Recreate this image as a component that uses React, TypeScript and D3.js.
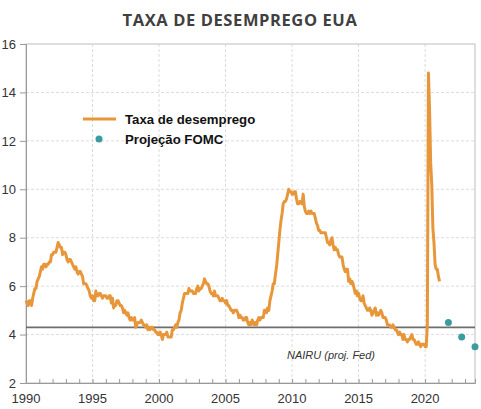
import React, { useEffect, useRef } from 'react';
import * as d3 from 'd3';

// Monthly US unemployment rate (%), Jan 1990 onwards
const startYear = 1990;
const unemployment = [
  5.4, 5.3, 5.2, 5.4, 5.4, 5.2, 5.5, 5.7, 5.9, 5.9, 6.2, 6.3,
  6.4, 6.6, 6.8, 6.7, 6.9, 6.9, 6.8, 6.9, 6.9, 7.0, 7.0, 7.3,
  7.3, 7.4, 7.4, 7.4, 7.6, 7.8, 7.7, 7.6, 7.6, 7.3, 7.4, 7.4,
  7.3, 7.1, 7.0, 7.1, 7.1, 7.0, 6.9, 6.8, 6.7, 6.8, 6.6, 6.5,
  6.6, 6.6, 6.5, 6.4, 6.1, 6.1, 6.1, 6.0, 5.9, 5.8, 5.6, 5.5,
  5.6, 5.4, 5.4, 5.8, 5.6, 5.6, 5.7, 5.7, 5.6, 5.5, 5.6, 5.6,
  5.6, 5.5, 5.5, 5.6, 5.6, 5.3, 5.5, 5.1, 5.2, 5.2, 5.4, 5.4,
  5.3, 5.2, 5.2, 5.1, 4.9, 5.0, 4.9, 4.8, 4.9, 4.7, 4.6, 4.7,
  4.6, 4.6, 4.7, 4.3, 4.4, 4.5, 4.5, 4.5, 4.6, 4.5, 4.4, 4.4,
  4.3, 4.4, 4.2, 4.3, 4.2, 4.3, 4.3, 4.2, 4.2, 4.1, 4.1, 4.0,
  4.0, 4.1, 4.0, 3.8, 4.0, 4.0, 4.0, 4.1, 3.9, 3.9, 3.9, 3.9,
  4.2, 4.2, 4.3, 4.4, 4.3, 4.5, 4.6, 4.9, 5.0, 5.3, 5.5, 5.7,
  5.7, 5.7, 5.7, 5.9, 5.8, 5.8, 5.8, 5.7, 5.7, 5.7, 5.9, 6.0,
  5.8, 5.9, 5.9, 6.0, 6.1, 6.3, 6.2, 6.1, 6.1, 6.0, 5.8, 5.7,
  5.7, 5.6, 5.8, 5.6, 5.6, 5.6, 5.5, 5.4, 5.4, 5.5, 5.4, 5.4,
  5.3, 5.4, 5.2, 5.2, 5.1, 5.0, 5.0, 4.9, 5.0, 5.0, 5.0, 4.9,
  4.7, 4.8, 4.7, 4.7, 4.6, 4.6, 4.7, 4.7, 4.5, 4.4, 4.5, 4.4,
  4.6, 4.5, 4.4, 4.5, 4.4, 4.6, 4.7, 4.6, 4.7, 4.7, 4.7, 5.0,
  5.0, 4.9, 5.1, 5.0, 5.4, 5.6, 5.8, 6.1, 6.1, 6.5, 6.8, 7.3,
  7.8, 8.3, 8.7, 9.0, 9.4, 9.5, 9.5, 9.6, 9.8, 10.0, 9.9, 9.9,
  9.8, 9.8, 9.9, 9.9, 9.6, 9.4, 9.4, 9.5, 9.5, 9.4, 9.8, 9.3,
  9.1, 9.0, 9.0, 9.1, 9.0, 9.1, 9.0, 9.0, 9.0, 8.8, 8.6, 8.5,
  8.3, 8.3, 8.2, 8.2, 8.2, 8.2, 8.2, 8.0, 7.8, 7.8, 7.7, 7.9,
  8.0, 7.7, 7.5, 7.6, 7.5, 7.5, 7.3, 7.2, 7.2, 7.2, 6.9, 6.7,
  6.6, 6.7, 6.7, 6.2, 6.3, 6.1, 6.2, 6.1, 5.9, 5.7, 5.8, 5.6,
  5.7, 5.5, 5.4, 5.4, 5.6, 5.3, 5.2, 5.1, 5.0, 5.0, 5.1, 5.0,
  4.8, 4.9, 5.0, 5.1, 4.8, 4.9, 4.8, 4.9, 5.0, 4.9, 4.7, 4.7,
  4.7, 4.6, 4.4, 4.4, 4.4, 4.3, 4.3, 4.4, 4.3, 4.2, 4.2, 4.1,
  4.0, 4.1, 4.0, 4.0, 3.8, 4.0, 3.8, 3.8, 3.7, 3.8, 3.8, 3.9,
  4.0, 3.8, 3.8, 3.7, 3.6, 3.6, 3.7, 3.6, 3.5, 3.6, 3.6, 3.6,
  3.5, 3.5, 4.4, 14.8, 13.3, 11.1, 10.2, 8.4, 7.8, 6.9, 6.7, 6.7,
  6.4, 6.2,
];

// FOMC median projections (end of year)
const projYears = [2021.75, 2022.75, 2023.75];
const projValues = [4.5, 3.9, 3.5];

const nairu = 4.3;
const xTicks = [1990, 1995, 2000, 2005, 2010, 2015, 2020];
const yTicks = [2, 4, 6, 8, 10, 12, 14, 16];

const W = 481;
const H = 409;

export default function App() {
  const ref = useRef<SVGSVGElement>(null);

  useEffect(() => {
    const svg = d3.select(ref.current);
    svg.selectAll('*').remove();

    const left = 26, right = 475, top = 44, bottom = 383;
    const x = d3.scaleLinear().domain([1990, 2023.75]).range([left, right]);
    const y = d3.scaleLinear().domain([2, 16]).range([bottom, top]);
    const font = 'Liberation Sans, Arial, sans-serif';

    svg.append('text')
      .attr('x', 240).attr('y', 26)
      .attr('text-anchor', 'middle')
      .attr('font-family', 'Open Sans, sans-serif')
      .attr('font-weight', 700)
      .attr('font-size', 16.5)
      .attr('fill', '#404040')
      .attr('letter-spacing', 0.6)
      .text('TAXA DE DESEMPREGO EUA');

    // gridlines
    const grid = svg.append('g')
      .attr('stroke', '#dcdcdc').attr('stroke-width', 1).attr('stroke-dasharray', '3,2');
    xTicks.slice(1).forEach(t => {
      grid.append('line')
        .attr('x1', x(t)).attr('x2', x(t)).attr('y1', top).attr('y2', bottom);
    });
    yTicks.slice(1, -1).forEach(t => {
      grid.append('line')
        .attr('x1', left).attr('x2', right).attr('y1', y(t)).attr('y2', y(t));
    });

    // frame
    svg.append('rect')
      .attr('x', left).attr('y', top)
      .attr('width', right - left).attr('height', bottom - top)
      .attr('fill', 'none').attr('stroke', '#c8c8c8').attr('stroke-width', 1.2);

    // y axis
    const yAxis = svg.append('g')
      .attr('transform', `translate(${left},0)`)
      .call(d3.axisLeft(y).tickValues(yTicks).tickSize(6).tickPadding(4));
    yAxis.select('.domain').attr('stroke', '#999');
    yAxis.selectAll('.tick line').attr('stroke', '#999');
    yAxis.selectAll('text')
      .attr('font-family', font).attr('font-size', 13).attr('fill', '#333');

    // x axis: yearly minor ticks pointing up
    const years = d3.range(1990, 2024);
    const xAxis = svg.append('g')
      .attr('transform', `translate(0,${bottom})`)
      .call(d3.axisTop(x).tickValues(years).tickSize(4).tickFormat(() => ''));
    xAxis.select('.domain').attr('stroke', '#999');
    xAxis.selectAll('.tick line').attr('stroke', '#999');

    svg.append('g')
      .selectAll('text')
      .data(xTicks)
      .join('text')
      .attr('x', d => x(d)).attr('y', bottom + 20)
      .attr('text-anchor', 'middle')
      .attr('font-family', font).attr('font-size', 13).attr('fill', '#333')
      .text(d => d);

    // NAIRU
    svg.append('line')
      .attr('x1', left).attr('x2', right)
      .attr('y1', y(nairu)).attr('y2', y(nairu))
      .attr('stroke', '#6e6e6e').attr('stroke-width', 1.8);
    svg.append('text')
      .attr('x', 287).attr('y', 359)
      .attr('font-family', font).attr('font-style', 'italic')
      .attr('font-size', 11).attr('fill', '#333')
      .text('NAIRU (proj. Fed)');

    // unemployment line
    const line = d3.line<number>()
      .x((_, i) => x(startYear + i / 12))
      .y(d => y(d));
    svg.append('path')
      .datum(unemployment)
      .attr('d', line)
      .attr('fill', 'none')
      .attr('stroke', '#E8963A')
      .attr('stroke-width', 3)
      .attr('stroke-linejoin', 'round');

    // FOMC projections
    svg.append('g')
      .selectAll('circle')
      .data(projValues)
      .join('circle')
      .attr('cx', (_, i) => x(projYears[i]))
      .attr('cy', d => y(d))
      .attr('r', 3.5)
      .attr('fill', '#3B9CA0');

    // legend
    const legend = svg.append('g').attr('font-family', font)
      .attr('font-weight', 700).attr('font-size', 13.2).attr('fill', '#111');
    legend.append('line')
      .attr('x1', 83).attr('x2', 116).attr('y1', 119).attr('y2', 119)
      .attr('stroke', '#E8963A').attr('stroke-width', 3);
    legend.append('text').attr('x', 125).attr('y', 124).text('Taxa de desemprego');
    legend.append('circle')
      .attr('cx', 99).attr('cy', 139).attr('r', 3.5).attr('fill', '#3B9CA0');
    legend.append('text').attr('x', 125).attr('y', 144).text('Projeção FOMC');
  }, []);

  return (
    <svg
      ref={ref}
      width={W}
      height={H}
      style={{ position: 'absolute', left: 0, top: 0, background: '#fff' }}
    />
  );
}
